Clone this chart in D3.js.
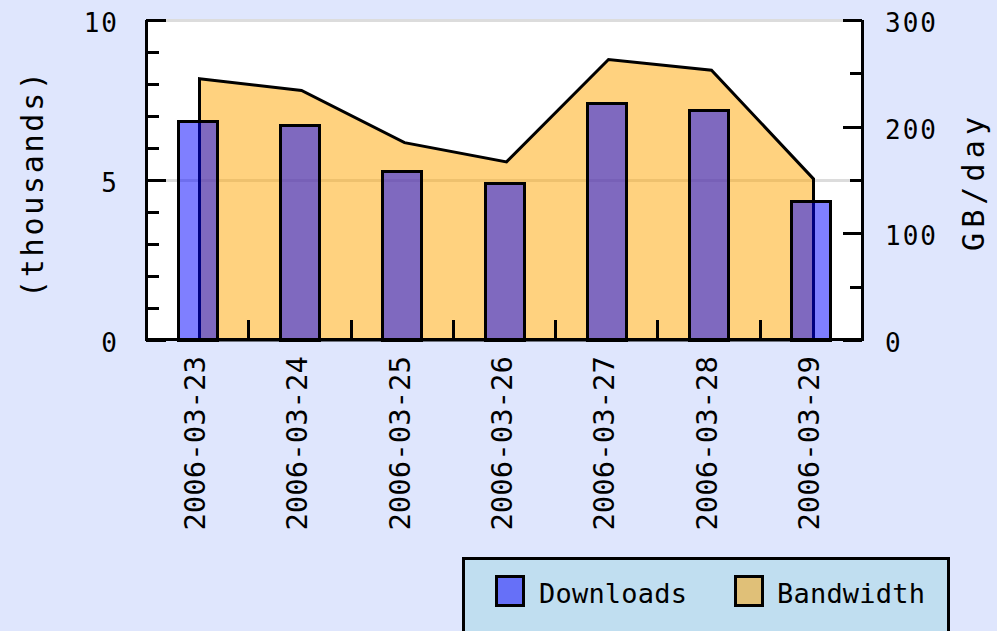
<!DOCTYPE html>
<html>
<head>
<meta charset="utf-8">
<script src="https://cdn.jsdelivr.net/npm/d3@7"></script>
<style>
  html, body { margin: 0; padding: 0; background: #dfe6fd; overflow: hidden; }
  #svg-container { width: 997px; height: 631px; }
  text { font-family: "DejaVu Sans Mono", monospace; fill: #000; }
</style>
</head>
<body>
<div id="svg-container"></div>
<script>
////////////////////////////////////////////////////////////////////
////////////////////////////  Data  ////////////////////////////////

const dates = ["2006-03-23", "2006-03-24", "2006-03-25", "2006-03-26", "2006-03-27", "2006-03-28", "2006-03-29"];
const downloads = [6.85, 6.72, 5.29, 4.9, 7.4, 7.19, 4.35]; // thousands
const bandwidth = [245, 234, 185, 167, 263, 253, 151]; // GB/day
const leftTicks = [0, 5, 10];
const rightTicks = [0, 100, 200, 300];
const legendItems = ["Downloads", "Bandwidth"];

////////////////////////////////////////////////////////////////////
////////////////////////////  Init  ////////////////////////////////

const width = 997;
const height = 631;
const plot = { left: 146, right: 862, top: 20, bottom: 340 };

const svg = d3
  .select("#svg-container")
  .append("svg")
  .attr("width", width)
  .attr("height", height);

// scale
const xScale = d3
  .scaleBand()
  .domain(dates)
  .range([plot.left, plot.right])
  .paddingInner(0.62)
  .paddingOuter(0.31);
const yLeft = d3.scaleLinear().domain([0, 10]).range([plot.bottom, plot.top]);
const yRight = d3.scaleLinear().domain([0, 300]).range([plot.bottom, plot.top]);
const step = xScale.step();
const center = (d) => xScale(d) + xScale.bandwidth() / 2;
const px = (v) => Math.round(v) + 0.5; // snap 3px strokes to whole pixels

// background
svg.append("rect").attr("width", width).attr("height", height).attr("fill", "#dfe6fd");
svg
  .append("rect")
  .attr("x", plot.left)
  .attr("y", plot.top)
  .attr("width", plot.right - plot.left)
  .attr("height", plot.bottom - plot.top)
  .attr("fill", "#fff");

// gridlines (5 and 10)
svg
  .selectAll(".grid")
  .data([5, 10])
  .enter()
  .append("line")
  .attr("x1", plot.left + 20)
  .attr("x2", plot.right)
  .attr("y1", (d) => px(yLeft(d)))
  .attr("y2", (d) => px(yLeft(d)))
  .attr("stroke", "#dcdcdc")
  .attr("stroke-width", 3)
  .attr("shape-rendering", "crispEdges");

////////////////////////////////////////////////////////////////////
////////////////////////////  Bandwidth area  //////////////////////

const area = d3
  .area()
  .x((d, i) => px(center(dates[i]) + 2))
  .y0(plot.bottom)
  .y1((d) => yRight(d));

svg
  .append("path")
  .datum(bandwidth)
  .attr("d", (d) => area(d) + "Z")
  .attr("fill", "rgba(255,165,0,0.5)")
  .attr("stroke", "#000")
  .attr("stroke-width", 3)
  .attr("stroke-linejoin", "miter");

////////////////////////////////////////////////////////////////////
////////////////////////////  Download bars  ///////////////////////

svg
  .selectAll(".bar")
  .data(downloads)
  .enter()
  .append("rect")
  .attr("class", "bar")
  .attr("x", (d, i) => px(xScale(dates[i])))
  .attr("y", (d) => px(yLeft(d)))
  .attr("width", Math.round(xScale.bandwidth()))
  .attr("height", (d) => plot.bottom - px(yLeft(d)))
  .attr("fill", "rgba(0,0,255,0.5)")
  .attr("stroke", "#000")
  .attr("stroke-width", 3)
  .attr("shape-rendering", "crispEdges");

////////////////////////////////////////////////////////////////////
////////////////////////////  Axes  ////////////////////////////////

const axisG = svg.append("g").attr("stroke", "#000").attr("stroke-width", 3).attr("shape-rendering", "crispEdges");

// axis lines
axisG.append("line").attr("x1", plot.left + 0.5).attr("x2", plot.left + 0.5).attr("y1", plot.top).attr("y2", plot.bottom + 1);
axisG.append("line").attr("x1", plot.right + 0.5).attr("x2", plot.right + 0.5).attr("y1", plot.top).attr("y2", plot.bottom + 1);
axisG.append("line").attr("x1", plot.left).attr("x2", plot.right + 2).attr("y1", plot.bottom - 0.5).attr("y2", plot.bottom - 0.5);

// left ticks: every 1, major at 0/5/10
axisG
  .selectAll(".lt")
  .data(d3.range(0, 11))
  .enter()
  .append("line")
  .attr("x1", plot.left)
  .attr("x2", (d) => plot.left + (d % 5 === 0 ? 20 : 13))
  .attr("y1", (d) => px(yLeft(d)))
  .attr("y2", (d) => px(yLeft(d)));

// right ticks: every 50, major at hundreds
axisG
  .selectAll(".rt")
  .data(d3.range(0, 301, 50))
  .enter()
  .append("line")
  .attr("x1", plot.right)
  .attr("x2", (d) => plot.right - (d % 100 === 0 ? 19 : 12))
  .attr("y1", (d) => px(yRight(d)))
  .attr("y2", (d) => px(yRight(d)));

// bottom ticks between categories
axisG
  .selectAll(".bt")
  .data(dates.slice(1))
  .enter()
  .append("line")
  .attr("x1", (d) => px(center(d) - step / 2))
  .attr("x2", (d) => px(center(d) - step / 2))
  .attr("y1", plot.bottom)
  .attr("y2", plot.bottom - 20);

// tick labels
svg
  .selectAll(".ll")
  .data(leftTicks)
  .enter()
  .append("text")
  .attr("x", 119)
  .attr("y", (d) => yLeft(d) + 12)
  .attr("text-anchor", "end")
  .style("font-size", "26px")
  .style("letter-spacing", "2px")
  .text((d) => d);

svg
  .selectAll(".rl")
  .data(rightTicks)
  .enter()
  .append("text")
  .attr("x", 885)
  .attr("y", (d) => yRight(d) + 12)
  .style("font-size", "26px")
  .style("letter-spacing", "2px")
  .text((d) => d);

svg
  .selectAll(".xl")
  .data(dates)
  .enter()
  .append("text")
  .attr("transform", (d) => `translate(${center(d) + 8},356) rotate(-90)`)
  .attr("text-anchor", "end")
  .style("font-size", "29px")
  .text((d) => d);

// axis titles
svg
  .append("text")
  .attr("transform", "translate(43,185) rotate(-90)")
  .attr("text-anchor", "middle")
  .attr("textLength", 226)
  .attr("lengthAdjust", "spacing")
  .style("font-size", "30px")
  .text("(thousands)");

svg
  .append("text")
  .attr("transform", "translate(984,184) rotate(-90)")
  .attr("text-anchor", "middle")
  .attr("textLength", 134)
  .attr("lengthAdjust", "spacing")
  .style("font-size", "30px")
  .text("GB/day");

////////////////////////////////////////////////////////////////////
////////////////////////////  Legend  //////////////////////////////

const legendColors = ["#6670f8", "#e0c078"];
const legend = svg.append("g");

legend
  .append("rect")
  .attr("x", 463.5)
  .attr("y", 558.5)
  .attr("width", 485)
  .attr("height", 100)
  .attr("fill", "#c0def0")
  .attr("stroke", "#000")
  .attr("stroke-width", 3)
  .attr("shape-rendering", "crispEdges");

const items = legend
  .selectAll(".item")
  .data(legendItems)
  .enter()
  .append("g")
  .attr("transform", (d, i) => `translate(${[496, 735][i]},0)`);

items
  .append("rect")
  .attr("x", 0.5)
  .attr("y", 576.5)
  .attr("width", 27)
  .attr("height", 29)
  .attr("fill", (d, i) => legendColors[i])
  .attr("stroke", "#000")
  .attr("stroke-width", 3)
  .attr("shape-rendering", "crispEdges");

items
  .append("text")
  .attr("x", (d, i) => [43, 42][i])
  .attr("y", 603)
  .attr("textLength", 148)
  .attr("lengthAdjust", "spacing")
  .style("font-size", "27px")
  .text((d) => d);
</script>
</body>
</html>
